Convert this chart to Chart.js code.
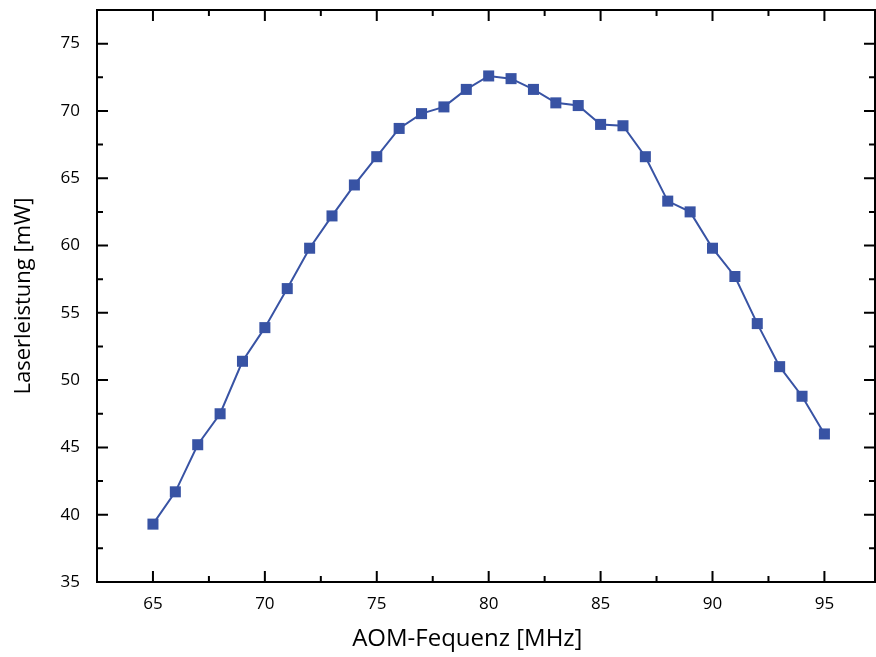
<!DOCTYPE html>
<html>
<head>
<meta charset="utf-8">
<script src="https://cdn.jsdelivr.net/npm/chart.js@4/dist/chart.umd.min.js"></script>
<style>
  html, body { margin: 0; padding: 0; background: #fff; }
  #wrap { width: 876px; height: 657px; }
</style>
</head>
<body>
<div id="wrap"><canvas id="chart" width="876" height="657"></canvas></div>
<script>
// AOM frequency in MHz
var frequencies = [65, 66, 67, 68, 69, 70, 71, 72, 73, 74, 75, 76, 77, 78, 79, 80,
                   81, 82, 83, 84, 85, 86, 87, 88, 89, 90, 91, 92, 93, 94, 95];
// laser power in mW
var power = [39.3, 41.7, 45.2, 47.5, 51.4, 53.9, 56.8, 59.8, 62.2, 64.5, 66.6, 68.7,
             69.8, 70.3, 71.6, 72.6, 72.4, 71.6, 70.6, 70.4, 69.0, 68.9, 66.6, 63.3,
             62.5, 59.8, 57.7, 54.2, 51.0, 48.8, 46.0];

var xTicks = [65, 70, 75, 80, 85, 90, 95];
var yTicks = [35, 40, 45, 50, 55, 60, 65, 70, 75];

var fontFamily = '"Open Sans", Lato, sans-serif';

// inward ticks on all four sides (major every 5, minor in between)
var frameTicks = {
  id: 'frameTicks',
  afterDraw: function (chart) {
    var ctx = chart.ctx;
    var a = chart.chartArea;
    var xs = chart.scales.x, ys = chart.scales.y;
    ctx.save();
    ctx.strokeStyle = '#000';
    ctx.lineWidth = 2;
    ctx.strokeRect(a.left, a.top, a.right - a.left, a.bottom - a.top);
    ctx.beginPath();
    for (var v = 62.5; v <= xs.max; v += 2.5) {
      var px = xs.getPixelForValue(v);
      if (px < a.left + 1 || px > a.right - 1) continue;
      var len = (v % 5 === 0) ? 11 : 6;
      ctx.moveTo(px, a.bottom); ctx.lineTo(px, a.bottom - len);
      ctx.moveTo(px, a.top); ctx.lineTo(px, a.top + len);
    }
    for (var w = 35; w <= ys.max; w += 2.5) {
      var py = ys.getPixelForValue(w);
      if (py < a.top + 1 || py > a.bottom - 1) continue;
      var l = (w % 5 === 0) ? 11 : 6;
      ctx.moveTo(a.left, py); ctx.lineTo(a.left + l, py);
      ctx.moveTo(a.right, py); ctx.lineTo(a.right - l, py);
    }
    ctx.stroke();
    ctx.restore();
  }
};

var points = frequencies.map(function (f, i) { return { x: f, y: power[i] }; });

new Chart(document.getElementById('chart'), {
  type: 'line',
  data: {
    datasets: [{
      data: points,
      borderColor: '#3853a4',
      backgroundColor: '#3853a4',
      borderWidth: 2,
      pointStyle: 'rect',
      pointRadius: 7.8,
      pointBorderWidth: 0,
      tension: 0
    }]
  },
  options: {
    responsive: false,
    animation: false,
    layout: { autoPadding: false, padding: { top: 10, right: 1, left: 0, bottom: 0 } },
    plugins: { legend: { display: false }, tooltip: { enabled: false } },
    scales: {
      x: {
        type: 'linear',
        min: 62.5,
        max: 97.26,
        afterFit: function (s) { s.height = 75; s.paddingLeft = 0; s.paddingRight = 0; },
        afterBuildTicks: function (s) { s.ticks = xTicks.map(function (v) { return { value: v }; }); },
        grid: { display: false, drawTicks: false },
        border: { display: false },
        ticks: { padding: 12, color: '#000', font: { family: fontFamily, size: 17 } },
        title: {
          // trailing spaces nudge the centred title left, as in the original
          display: true, text: 'AOM-Fequenz [MHz]\u00a0\u00a0\u00a0\u00a0\u00a0\u00a0', color: '#000',
          font: { family: fontFamily, size: 24 }, padding: { top: 0, bottom: 3 }
        }
      },
      y: {
        min: 35,
        max: 77.5,
        afterFit: function (s) { s.width = 97; s.paddingTop = 0; s.paddingBottom = 0; },
        afterBuildTicks: function (s) { s.ticks = yTicks.map(function (v) { return { value: v }; }); },
        grid: { display: false, drawTicks: false },
        border: { display: false },
        ticks: { padding: 17, color: '#000', font: { family: fontFamily, size: 17 } },
        title: {
          display: true, text: 'Laserleistung [mW]', color: '#000',
          font: { family: fontFamily, size: 22 }, padding: { top: 11, bottom: 0 }
        }
      }
    }
  },
  plugins: [frameTicks]
});
</script>
</body>
</html>
